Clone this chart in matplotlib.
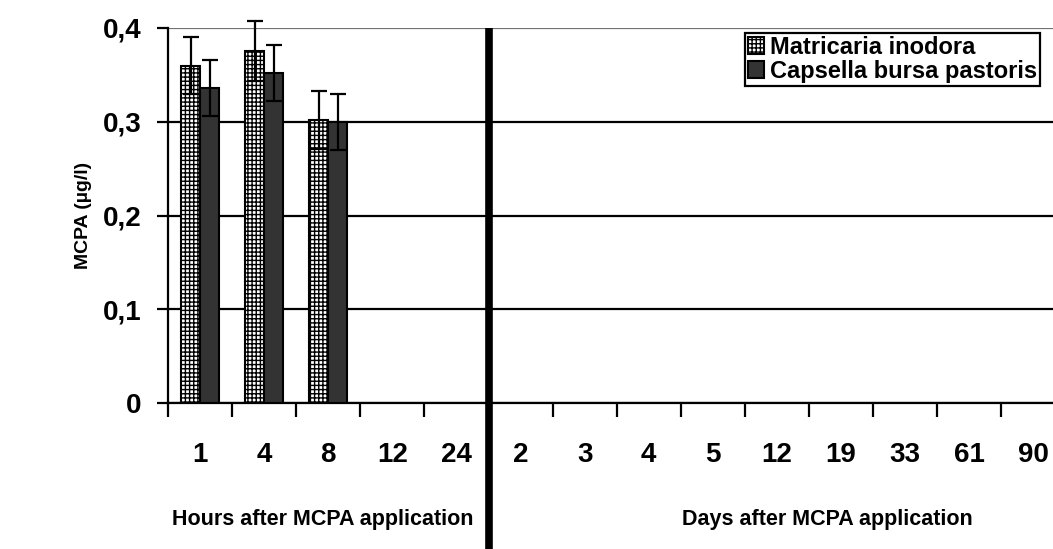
import matplotlib.pyplot as plt
import matplotlib.transforms as mtransforms
from matplotlib.lines import Line2D
import numpy as np

plt.rcParams['font.family'] = ['Liberation Sans', 'DejaVu Sans']
plt.rcParams['font.weight'] = 'bold'
plt.rcParams['hatch.linewidth'] = 1.0

hour_labels = ['1', '4', '8', '12', '24']
day_labels = ['2', '3', '4', '5', '12', '19', '33', '61', '90']
categories = hour_labels + day_labels

# concentrations measured 1, 4 and 8 h after application; none detected later
matricaria = [0.360, 0.375, 0.302]
matricaria_err = [0.030, 0.032, 0.031]
capsella = [0.336, 0.352, 0.300]
capsella_err = [0.030, 0.030, 0.030]

yticks = [0, 0.1, 0.2, 0.3, 0.4]
ytick_labels = ['0', '0,1', '0,2', '0,3', '0,4']

W, H = 1053, 549
fig = plt.figure(figsize=(W / 100, H / 100), dpi=100)
x0, y0, ytop = 168, 403, 28
slot = 64.1
ax = fig.add_axes([x0 / W, (H - y0) / H, (W - x0) / W, (y0 - ytop) / H])

x = np.arange(len(categories))
xm = x[:len(matricaria)]
bw = 0.295
ax.bar(xm - bw / 2, matricaria, bw, color='white', edgecolor='black',
       hatch='++++', linewidth=1.5, zorder=3, label='Matricaria inodora')
ax.bar(xm + bw / 2, capsella, bw, color='#333333', edgecolor='black',
       linewidth=1.5, zorder=3, label='Capsella bursa pastoris')
for off, vals, errs in [(-bw / 2, matricaria, matricaria_err),
                        (bw / 2, capsella, capsella_err)]:
    ax.errorbar(xm + off, vals, yerr=errs, fmt='none', ecolor='black',
                elinewidth=1.6, capsize=6, capthick=1.6, zorder=4, clip_on=False)

ax.set_yticks(yticks)
ax.set_yticklabels(ytick_labels, fontsize=20, fontweight='bold')
ax.yaxis.grid(True, color='black', linewidth=1.6, zorder=0)
ax.get_ygridlines()[-1].set_color('0.45')
ax.set_axisbelow(True)

ax.set_xticks(x)
ax.set_xticklabels(categories, fontsize=20, fontweight='bold')
ax.set_xticks(np.arange(len(categories) + 1) - 0.5, minor=True)
ax.tick_params(axis='x', which='major', length=0, pad=28)
ax.tick_params(axis='x', which='minor', length=10, width=1.6, direction='out')
ax.tick_params(axis='y', length=8, width=1.6, direction='out', pad=11)

# set limits last so the tick positions don't widen the view
ax.set_xlim(-0.5, -0.5 + (W - x0) / slot)
ax.set_ylim(0, 0.4)

for s in ['top', 'right']:
    ax.spines[s].set_visible(False)
for s in ['left', 'bottom']:
    ax.spines[s].set_linewidth(1.6)

ax.set_ylabel('MCPA (\u00b5g/l)', fontsize=14, fontweight='bold', labelpad=8)

# separator between the hours and the days
top = ax.get_position().y1
trans = mtransforms.blended_transform_factory(ax.transData, fig.transFigure)
fig.add_artist(Line2D([len(hour_labels) - 0.5] * 2, [0, top], transform=trans,
                      color='black', linewidth=5.5, solid_capstyle='butt'))

grp_font = dict(fontsize=15.5, fontweight='bold', ha='center', va='center')
ax.text(1.92, (H - 520) / H, 'Hours after MCPA application', transform=trans, **grp_font)
ax.text(9.78, (H - 520) / H, 'Days after MCPA application', transform=trans, **grp_font)

leg = ax.legend(loc='upper right', bbox_to_anchor=(1040 / W, (H - 33) / H),
                bbox_transform=fig.transFigure, fontsize=17, frameon=True,
                fancybox=False, edgecolor='black', framealpha=1,
                handlelength=0.7, handleheight=0.7, handletextpad=0.25,
                borderpad=0.12, labelspacing=0.05, borderaxespad=0)
leg.get_frame().set_linewidth(1.6)
for t in leg.get_texts():
    t.set_fontweight('bold')

fig.savefig('out.png', dpi=100)
